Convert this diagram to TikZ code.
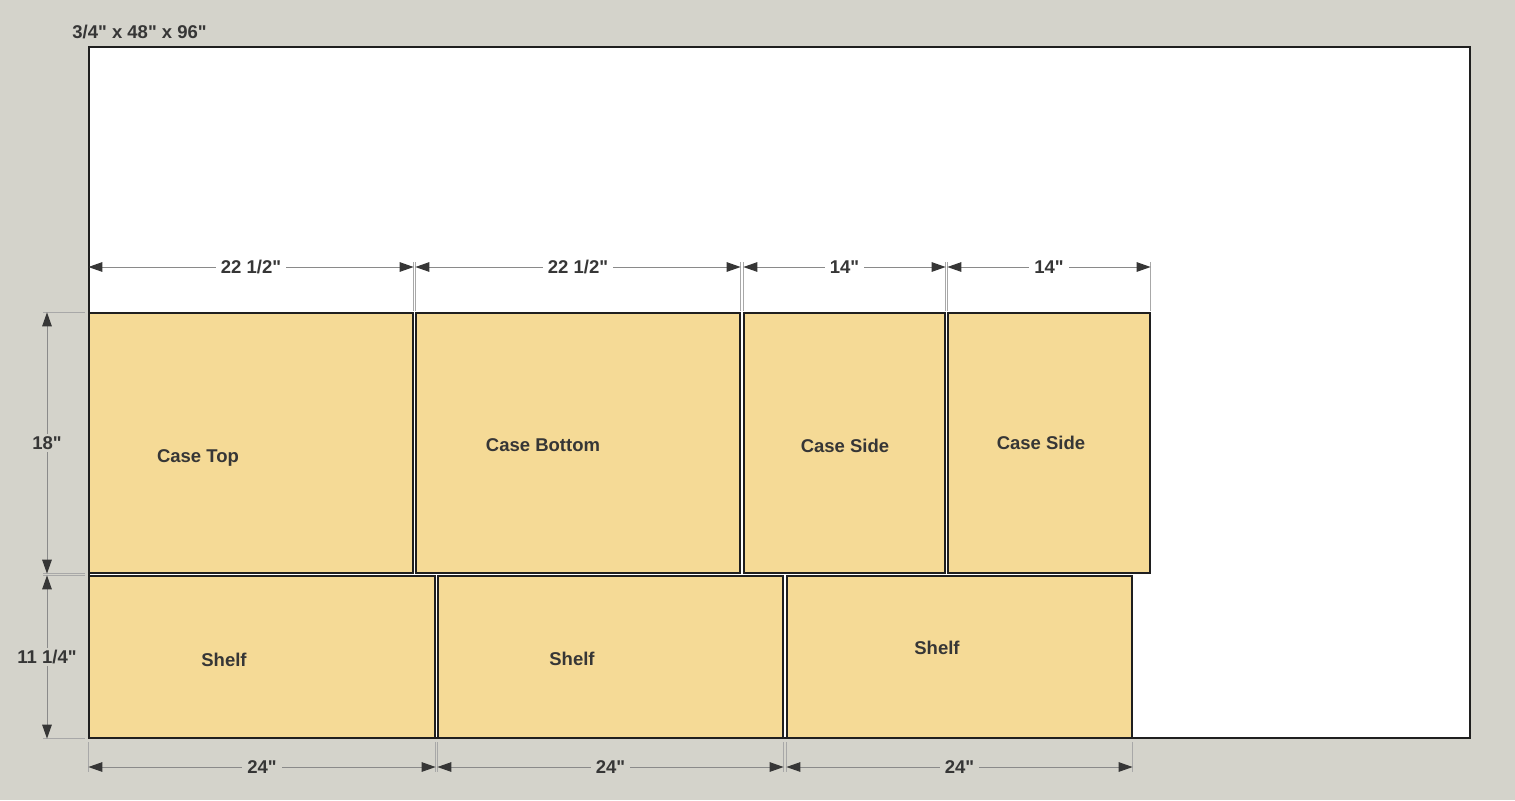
\documentclass[tikz,border=0pt]{standalone}
\usepackage{fontspec}
\setmainfont{Liberation Sans}[Ligatures=TeXOff]
\usetikzlibrary{arrows.meta,fit}
\definecolor{bg}{HTML}{D4D3CB}
\definecolor{wood}{HTML}{F5DA96}
\definecolor{ink}{HTML}{363636}
\definecolor{dimgray}{HTML}{8A8A8A}
\definecolor{extgray}{HTML}{A8A8A8}
\begin{document}
\begin{tikzpicture}[x=0.5pt,y=-0.5pt,
  piece/.style={draw=black!88, line width=0.6pt, fill=wood, inner sep=0pt},
  sheetbox/.style={draw=black!88, line width=0.75pt, fill=white, inner sep=0pt},
  lbl/.style={text=ink, font=\fontsize{9.25}{11}\selectfont\bfseries, inner sep=0pt},
  tip/.tip={Triangle[length=7pt,width=4.8pt,color=ink]},
  dimline/.style={draw=dimgray, line width=0.5pt, tip-tip},
  ext/.style={draw=extgray, line width=0.5pt},
  dimlbl/.style={lbl, inner xsep=2.5pt, inner ysep=1pt, fill=#1}]
\fill[bg] (0,0) rectangle (1515,800);
\useasboundingbox (0,0) rectangle (1515,800);

\node[sheetbox, fit={(89,47) (1470,738)}] (sheet) {};
\node[lbl, anchor=west] (title) at (72,32) {3/4" x 48" x 96"};

% top row
\node[piece, fit={(89,313) (413,573)}] (ct) {};
\node[piece, fit={(416,313) (740,573)}] (cb) {};
\node[piece, fit={(744,313) (945,573)}] (cs1) {};
\node[piece, fit={(948,313) (1150,573)}] (cs2) {};
% bottom row
\node[piece, fit={(89,576) (435,738)}] (sh1) {};
\node[piece, fit={(438,576) (783,738)}] (sh2) {};
\node[piece, fit={(787,576) (1132,738)}] (sh3) {};

% labels
\node[lbl] (lct) at (198,458) {Case Top};
\node[lbl] (lcb) at (543,445) {Case Bottom};
\node[lbl] (lcs1) at (845,446) {Case Side};
\node[lbl] (lcs2) at (1041,443) {Case Side};
\node[lbl] (lsh1) at (224,660) {Shelf};
\node[lbl] (lsh2) at (572,659) {Shelf};
\node[lbl] (lsh3) at (937,648) {Shelf};

% top extension lines
\foreach \n/\a in {ct/north east, cb/north west, cb/north east, cs1/north west, cs1/north east, cs2/north west, cs2/north east}
  \draw[ext] (\n.\a |- 0,262) -- (\n.\a |- 0,311);
% top dimensions
\draw[dimline] (ct.north west |- 0,267) -- node[dimlbl=white] (d1) {22 1/2"} (ct.north east |- 0,267);
\draw[dimline] (cb.north west |- 0,267) -- node[dimlbl=white] (d2) {22 1/2"} (cb.north east |- 0,267);
\draw[dimline] (cs1.north west |- 0,267) -- node[dimlbl=white] (d3) {14"} (cs1.north east |- 0,267);
\draw[dimline] (cs2.north west |- 0,267) -- node[dimlbl=white] (d4) {14"} (cs2.north east |- 0,267);

% left extension lines
\foreach \n/\a in {ct/north west, ct/south west, sh1/north west, sh1/south west}
  \draw[ext] (43,0 |- \n.\a) -- (85,0 |- \n.\a);
% left dimensions
\draw[dimline] (47,0 |- ct.north west) -- node[dimlbl=bg] (d5) {18"} (47,0 |- ct.south west);
\draw[dimline] (47,0 |- sh1.north west) -- node[dimlbl=bg] (d6) {11 1/4"} (47,0 |- sh1.south west);

% bottom extension lines
\foreach \n/\a in {sh1/south west, sh1/south east, sh2/south west, sh2/south east, sh3/south west, sh3/south east}
  \draw[ext] (\n.\a |- 0,742) -- (\n.\a |- 0,772);
% bottom dimensions
\draw[dimline] (sh1.south west |- 0,767) -- node[dimlbl=bg] (d7) {24"} (sh1.south east |- 0,767);
\draw[dimline] (sh2.south west |- 0,767) -- node[dimlbl=bg] (d8) {24"} (sh2.south east |- 0,767);
\draw[dimline] (sh3.south west |- 0,767) -- node[dimlbl=bg] (d9) {24"} (sh3.south east |- 0,767);
\end{tikzpicture}
\end{document}
